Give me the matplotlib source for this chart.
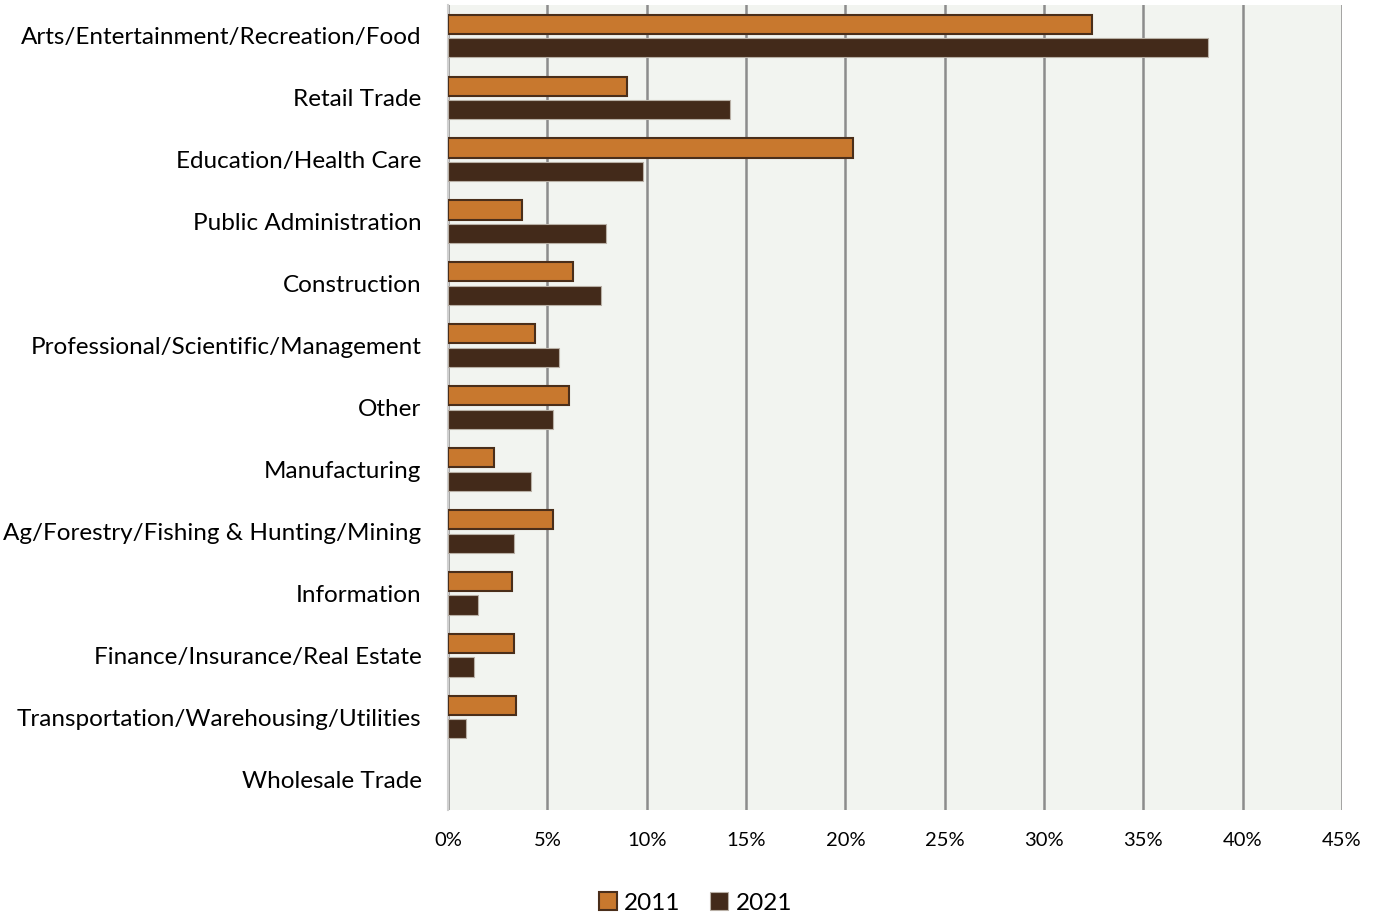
import numpy as np
import matplotlib
matplotlib.use("Agg")
import matplotlib.pyplot as plt
from matplotlib.ticker import FuncFormatter

plt.rcParams['font.family'] = ['Lato', 'DejaVu Sans']

categories = [
    "Arts/Entertainment/Recreation/Food",
    "Retail Trade",
    "Education/Health Care",
    "Public Administration",
    "Construction",
    "Professional/Scientific/Management",
    "Other",
    "Manufacturing",
    "Ag/Forestry/Fishing & Hunting/Mining",
    "Information",
    "Finance/Insurance/Real Estate",
    "Transportation/Warehousing/Utilities",
    "Wholesale Trade",
]
share_2011 = [32.4, 9.0, 20.4, 3.7, 6.3, 4.4, 6.1, 2.3, 5.3, 3.2, 3.3, 3.4, 0.0]
share_2021 = [38.25, 14.2, 9.8, 7.95, 7.7, 5.6, 5.3, 4.2, 3.3, 1.5, 1.3, 0.9, 0.0]

c2011 = "#C8782E"
c2021 = "#432A1A"
edge = "#4A2E1A"

fig = plt.figure(figsize=(13.77, 9.17), dpi=100)
ax = fig.add_axes([448 / 1377, 1 - 810 / 917, (1342 - 448) / 1377, 805 / 917])
ax.set_facecolor("#F2F4F0")

y = np.arange(len(categories))
h = 0.31
gap = 0.035
# no outline on empty bars so nothing shows for zero values
lw11 = [1.5 if v > 0 else 0 for v in share_2011]
lw21 = [0.8 if v > 0 else 0 for v in share_2021]
ax.barh(y - h / 2 - gap, share_2011, height=h, color=c2011, edgecolor=edge, linewidth=lw11, label="2011", zorder=3)
ax.barh(y + h / 2 + gap, share_2021, height=h, color=c2021, edgecolor="#B8AFA5", linewidth=lw21, label="2021", zorder=3)

ax.set_ylim(len(categories) - 0.5, -0.5)
ax.set_xlim(0, 45)
ax.set_xticks(np.arange(0, 46, 5))
ax.xaxis.set_major_formatter(FuncFormatter(lambda v, p: f"{v:.0f}%"))
ax.set_yticks(y)
ax.set_yticklabels(categories, fontsize=17.5)
ax.tick_params(axis='x', labelsize=14.5, length=0, pad=16)
ax.tick_params(axis='y', length=0, pad=19)
ax.grid(axis='x', color="#8C8C8C", linewidth=1.8, zorder=1)
for s in ["top", "right", "bottom"]:
    ax.spines[s].set_visible(False)
ax.spines["left"].set_color("#D0D0D0")
ax.spines["left"].set_linewidth(1.5)
ax.spines["left"].set_zorder(2)

leg = fig.legend(loc="center", bbox_to_anchor=(0.505, 1 - 903 / 917), ncol=2, frameon=False,
                 fontsize=17.5, handlelength=0.75, handleheight=0.75, handletextpad=0.3, columnspacing=1.2)

fig.savefig("out.png", dpi=100)
